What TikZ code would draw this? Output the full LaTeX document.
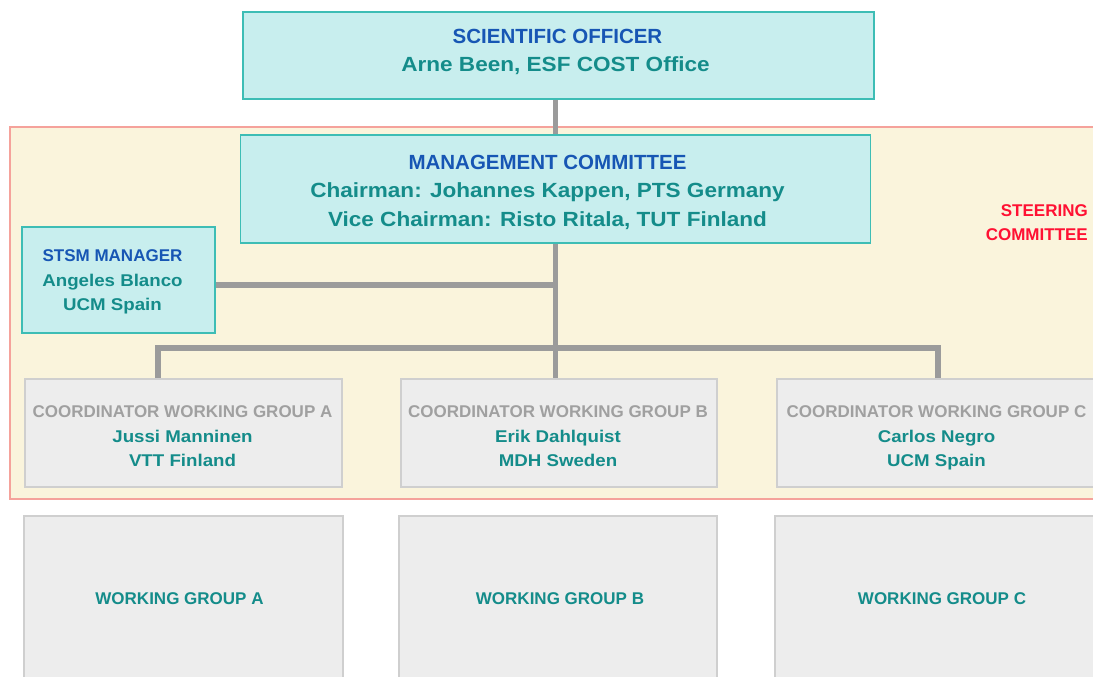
\documentclass[tikz,border=0pt]{standalone}
\usepackage{fontspec}
\setmainfont{Liberation Sans}
\newfontfamily\namefont{Liberation Sans}[FakeStretch=1.1]
\usetikzlibrary{calc}

\definecolor{boxcyan}{HTML}{C8EEEE}
\definecolor{tealline}{HTML}{3DBDB5}
\definecolor{steerfill}{HTML}{FAF4DC}
\definecolor{steerline}{HTML}{F5A29B}
\definecolor{boxgrey}{HTML}{EDEDED}
\definecolor{greyline}{HTML}{CFCFCF}
\definecolor{linkgrey}{HTML}{9B9B9B}
\definecolor{titleblue}{HTML}{1756B4}
\definecolor{nameteal}{HTML}{148C8A}
\definecolor{coordgrey}{HTML}{A0A0A0}
\definecolor{steerred}{HTML}{FF1133}

\begin{document}
\begin{tikzpicture}[x=1pt, y=-1pt,
        officebox/.style={rectangle, draw=tealline, fill=boxcyan, line width=1.5pt, inner sep=0pt},
        groupbox/.style={rectangle, draw=greyline, fill=boxgrey, line width=1.5pt, inner sep=0pt},
        head/.style={font=\bfseries\fontsize{20.5}{24}\selectfont, text=titleblue, anchor=base, inner sep=0pt},
        who/.style={font=\namefont\bfseries\fontsize{20.5}{24}\selectfont, text=nameteal, anchor=base, inner sep=0pt},
        smallhead/.style={head, font=\bfseries\fontsize{17}{20}\selectfont},
        smallwho/.style={who, font=\namefont\bfseries\fontsize{17}{20}\selectfont},
        link/.style={draw=linkgrey, line width=5.5pt}
    ]
    \useasboundingbox (0,0) rectangle (1093,677);
    \clip (0,0) rectangle (1093,677);

    % Steering committee area
    \node[rectangle, draw=steerline, fill=steerfill, line width=2pt, minimum width=1095pt, minimum height=372pt] (steer) at (557.5,313) {};
    \node[smallhead, text=steerred, anchor=base east] (steer-l1) at ($(steer.north east)+(-18,90)$) {STEERING};
    \node[smallhead, text=steerred, anchor=base east] (steer-l2) at ($(steer.north east)+(-18,114)$) {COMMITTEE};

    % Scientific officer
    \node[officebox, minimum width=631pt, minimum height=87pt] (so) at (558.5,55.5) {};
    \node[head] (so-title) at ($(so.north)+(-1,32)$) {SCIENTIFIC OFFICER};
    \node[who] (so-name) at ($(so.north)+(-3,60)$) {Arne Been, ESF COST Office};

    % Management committee
    \node[officebox, minimum width=630pt, minimum height=108pt] (mc) at (555.5,189) {};
    \node[head] (mc-title) at ($(mc.north)+(-8,35)$) {MANAGEMENT COMMITTEE};
    \node[who] (mc-chair) at ($(mc.north)+(-8,63)$) {Chairman: Johannes Kappen, PTS Germany};
    \node[who] (mc-vice) at ($(mc.north)+(-8,92)$) {Vice Chairman: Risto Ritala, TUT Finland};

    % STSM manager
    \node[officebox, minimum width=193pt, minimum height=106pt] (stsm) at (118.5,280) {};
    \node[smallhead] (stsm-title) at ($(stsm.north)+(-6,35)$) {STSM MANAGER};
    \node[smallwho] (stsm-name) at ($(stsm.north)+(-6,60)$) {Angeles Blanco};
    \node[smallwho] (stsm-place) at ($(stsm.north)+(-6,84)$) {UCM Spain};

    % --- Connectors ---
    \coordinate (stsm-join) at (555,285);
    \coordinate (bar-left) at (158,348);
    \coordinate (bar-right) at (938,348);
    \draw[link] (so.south -| mc.north) -- (mc.north);
    \draw[link] (mc.south) -- (mc.south |- bar-left) -- +(0,31);
    \draw[link] (stsm-join -| stsm.east) -- (stsm-join);
    \draw[link] ($(bar-left)+(0,31)$) -- (bar-left) -- (bar-right) -- +(0,31);

    % --- Coordinators ---
    \node[groupbox, minimum width=317pt, minimum height=108pt] (coord-a) at (183.5,433) {};
    \node[groupbox, minimum width=316pt, minimum height=108pt] (coord-b) at (559,433) {};
    \node[groupbox, minimum width=319pt, minimum height=108pt] (coord-c) at (936.5,433) {};

    \node[smallhead, text=coordgrey] (coord-a-title) at ($(coord-a.north)+(-1,39)$) {COORDINATOR WORKING GROUP A};
    \node[smallwho] (coord-a-name) at ($(coord-a.north)+(-1,64)$) {Jussi Manninen};
    \node[smallwho] (coord-a-place) at ($(coord-a.north)+(-1,88)$) {VTT Finland};

    \node[smallhead, text=coordgrey] (coord-b-title) at ($(coord-b.north)+(-1,39)$) {COORDINATOR WORKING GROUP B};
    \node[smallwho] (coord-b-name) at ($(coord-b.north)+(-1,64)$) {Erik Dahlquist};
    \node[smallwho] (coord-b-place) at ($(coord-b.north)+(-1,88)$) {MDH Sweden};

    \node[smallhead, text=coordgrey] (coord-c-title) at ($(coord-c.north)+(0,39)$) {COORDINATOR WORKING GROUP C};
    \node[smallwho] (coord-c-name) at ($(coord-c.north)+(0,64)$) {Carlos Negro};
    \node[smallwho] (coord-c-place) at ($(coord-c.north)+(0,88)$) {UCM Spain};

    % --- Working groups ---
    \node[groupbox, minimum width=319pt, minimum height=166pt] (wg-a) at (183.5,599) {};
    \node[groupbox, minimum width=318pt, minimum height=166pt] (wg-b) at (558,599) {};
    \node[groupbox, minimum width=330pt, minimum height=166pt] (wg-c) at (940,599) {};

    \node[smallhead, text=nameteal] (wg-a-label) at ($(wg-a.north)+(-4,89)$) {WORKING GROUP A};
    \node[smallhead, text=nameteal] (wg-b-label) at ($(wg-b.north)+(2,89)$) {WORKING GROUP B};
    \node[smallhead, text=nameteal] (wg-c-label) at ($(wg-c.north)+(2,89)$) {WORKING GROUP C};
\end{tikzpicture}
\end{document}
